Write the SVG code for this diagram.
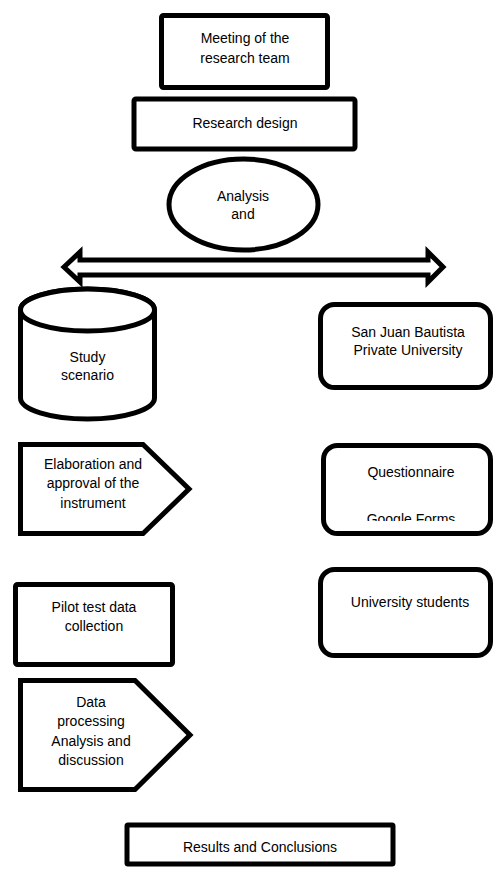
<svg xmlns="http://www.w3.org/2000/svg" width="494" height="870" viewBox="0 0 494 870">
<style>
.s{fill:#fff;stroke:#000;stroke-width:5;stroke-linejoin:miter}
.t{font-family:"Liberation Sans",Arial,sans-serif;font-size:14px;fill:#000;text-anchor:middle}
</style>
<defs>
<clipPath id="qclip"><rect x="323" y="445" width="168" height="76"/></clipPath>
</defs>
<rect width="494" height="870" fill="#fff"/>
<g id="connectors">
<path class="s" stroke-width="4" d="M64,267 L80,252 L80,260 L428,260 L428,252 L443,267 L428,282 L428,275 L80,275 L80,282 Z"/>
</g>
<g id="meeting">
<rect class="s" x="161.5" y="15.5" width="166" height="72" rx="2"/>
<text class="t" x="245" y="43">Meeting of the</text>
<text class="t" x="245" y="63">research team</text>
</g>
<g id="design">
<rect class="s" stroke-width="4.5" x="134" y="99" width="221" height="50" rx="2"/>
<text class="t" x="245" y="128">Research design</text>
</g>
<g id="analysis">
<ellipse class="s" stroke-width="4" cx="243.5" cy="204.5" rx="74.5" ry="45.5"/>
<text class="t" x="243" y="200.5">Analysis</text>
<text class="t" x="243" y="219">and</text>
</g>
<g id="scenario">
<path class="s" d="M20.5,310 L20.5,398 A67,21 0 0 0 154.5,398 L154.5,310 A67,21 0 0 0 20.5,310 Z"/>
<ellipse class="s" cx="87.5" cy="310" rx="67" ry="21"/>
<text class="t" x="87.5" y="361.5">Study</text>
<text class="t" x="87.5" y="380">scenario</text>
</g>
<g id="elaboration">
<path class="s" d="M20.5,444.5 L143,444.5 L189,489 L143,533.5 L20.5,533.5 Z"/>
<text class="t" x="93" y="469">Elaboration and</text>
<text class="t" x="93" y="488">approval of the</text>
<text class="t" x="93" y="508">instrument</text>
</g>
<g id="pilot">
<rect class="s" x="15.5" y="584.5" width="157" height="80" rx="2"/>
<text class="t" x="94" y="611.5">Pilot test data</text>
<text class="t" x="94" y="630.5">collection</text>
</g>
<g id="processing">
<path class="s" d="M20.5,680.5 L135,680.5 L190,735 L135,789.5 L20.5,789.5 Z"/>
<text class="t" x="91" y="706.5">Data</text>
<text class="t" x="91" y="726">processing</text>
<text class="t" x="91" y="746">Analysis and</text>
<text class="t" x="91" y="765">discussion</text>
</g>
<g id="university">
<rect class="s" x="320.5" y="304.5" width="170" height="83" rx="14"/>
<text class="t" x="408" y="337">San Juan Bautista</text>
<text class="t" x="408" y="355">Private University</text>
</g>
<g id="questionnaire">
<rect class="s" x="323.5" y="445.5" width="167" height="88" rx="14"/>
<text class="t" x="411" y="476.5">Questionnaire</text>
<text class="t" x="411" y="524" clip-path="url(#qclip)">Google Forms</text>
</g>
<g id="students">
<rect class="s" x="320.5" y="569.5" width="170" height="86" rx="14"/>
<text class="t" x="410" y="606.5">University students</text>
</g>
<g id="results">
<rect class="s" stroke-width="4.5" x="127" y="825" width="266" height="39" rx="1"/>
<text class="t" x="260" y="851.5">Results and Conclusions</text>
</g>
</svg>
